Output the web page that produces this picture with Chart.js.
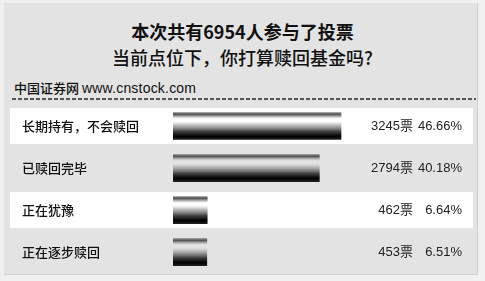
<!DOCTYPE html>
<html>
<head>
<meta charset="utf-8">
<script src="https://cdn.jsdelivr.net/npm/chart.js@4/dist/chart.umd.min.js"></script>
<style>
  html, body { margin:0; padding:0; background:#f0f0f0; }
  #wrap { position:relative; width:485px; height:281px; overflow:hidden; font-family:"Noto Sans CJK SC", sans-serif; }
  #panel { position:absolute; left:4px; top:3px; width:473px; height:271px; background:#e3e3e3; border-right:1px solid #cfcfcf; border-bottom:1px solid #cfcfcf; }
  .t { position:absolute; left:0; width:485px; text-align:center; color:#111; white-space:nowrap; }
  #t1 { top:20px; font-size:18px; line-height:22px; font-weight:bold; }
  #t2 { top:46px; font-size:18px; line-height:22px; font-weight:500; }
  #src { position:absolute; left:14px; top:79px; font-size:13px; line-height:17px; color:#111; white-space:nowrap; font-weight:500; }
  #src span { font-family:"Liberation Sans", Arial, sans-serif; font-weight:normal; font-size:14px; letter-spacing:0.2px; }
  #dash { position:absolute; left:12px; top:98px; width:464px; height:2px; background:repeating-linear-gradient(90deg,#555 0 4px,transparent 4px 6px); }
  #c { position:absolute; left:0; top:0; }
</style>
</head>
<body>
<div id="wrap">
  <div id="panel"></div>
  <div class="t" id="t1">本次共有6954人参与了投票</div>
  <div class="t" id="t2">当前点位下，你打算赎回基金吗?</div>
  <div id="src">中国证券网 <span>www.cnstock.com</span></div>
  <div id="dash"></div>
  <canvas id="c" width="485" height="281"></canvas>
</div>
<script>
const categories = ["长期持有，不会赎回", "已赎回完毕", "正在犹豫", "正在逐步赎回"];
const votes = [3245, 2794, 462, 453];
const percents = ["46.66%", "40.18%", "6.64%", "6.51%"];
const voteLabels = votes.map(v => v + "票");

const AXIS_MIN = -250;

function makeGradient(cx, top, bottom) {
  const g = cx.createLinearGradient(0, top, 0, bottom);
  g.addColorStop(0.00, 'rgba(110,110,110,0.85)');
  g.addColorStop(0.07, 'rgba(85,85,85,1)');
  g.addColorStop(0.14, 'rgba(130,130,130,0.7)');
  g.addColorStop(0.24, 'rgba(200,200,200,0.0)');
  g.addColorStop(0.32, 'rgba(200,200,200,0.0)');
  g.addColorStop(0.45, 'rgba(165,165,165,0.65)');
  g.addColorStop(0.70, 'rgba(60,60,60,0.97)');
  g.addColorStop(0.88, 'rgba(0,0,0,1)');
  g.addColorStop(1.00, 'rgba(30,30,30,1)');
  return g;
}

const bandPlugin = {
  id: 'bands',
  beforeDraw(chart) {
    const y = chart.scales.y;
    const cx = chart.ctx;
    cx.save();
    cx.fillStyle = '#ffffff';
    [0, 2].forEach(i => {
      const c = y.getPixelForValue(i);
      cx.fillRect(10, c - 18, 463, 36);
    });
    cx.restore();
  },
  beforeDatasetsDraw(chart) {
    const cx = chart.ctx;
    const meta = chart.getDatasetMeta(0);
    meta.data.forEach(el => {
      const h = el.height;
      if (isFinite(el.y) && isFinite(h)) {
        el.options = Object.assign({}, el.options, {
          backgroundColor: makeGradient(cx, el.y - h / 2, el.y + h / 2)
        });
      }
    });
  }
};

const tickFont = { family: '"Noto Sans CJK SC", sans-serif', size: 13, weight: '500' };
const numFont = { family: '"Liberation Sans", "Noto Sans CJK SC", sans-serif', size: 13 };

new Chart(document.getElementById('c'), {
  type: 'bar',
  data: {
    labels: categories,
    datasets: [{
      data: votes,
      base: AXIS_MIN,
      backgroundColor: '#444',
      borderWidth: 0,
      barThickness: 27
    }]
  },
  options: {
    indexAxis: 'y',
    responsive: false,
    animation: false,
    events: [],
    layout: { padding: { left: 22, right: 23, top: 105, bottom: 7 } },
    plugins: { legend: { display: false }, tooltip: { enabled: false }, title: { display: false } },
    scales: {
      x: { type: 'linear', min: AXIS_MIN, max: 3536, display: false },
      y: {
        type: 'category', position: 'left', offset: true,
        grid: { display: false, drawTicks: false }, border: { display: false },
        ticks: { crossAlign: 'far', color: '#111', font: tickFont, padding: 0 },
        afterFit(s) { s.width = 151; }
      },
      yc: {
        type: 'category', position: 'right', offset: true, labels: voteLabels, weight: 0,
        grid: { display: false, drawTicks: false }, border: { display: false },
        ticks: { crossAlign: 'far', color: '#222', font: numFont, padding: 0 },
        afterFit(s) { s.width = 58; }
      },
      yp: {
        type: 'category', position: 'right', offset: true, labels: percents, weight: 1,
        grid: { display: false, drawTicks: false }, border: { display: false },
        ticks: { crossAlign: 'far', color: '#222', font: numFont, padding: 0 },
        afterFit(s) { s.width = 49; }
      }
    }
  },
  plugins: [bandPlugin]
});
</script>
</body>
</html>
